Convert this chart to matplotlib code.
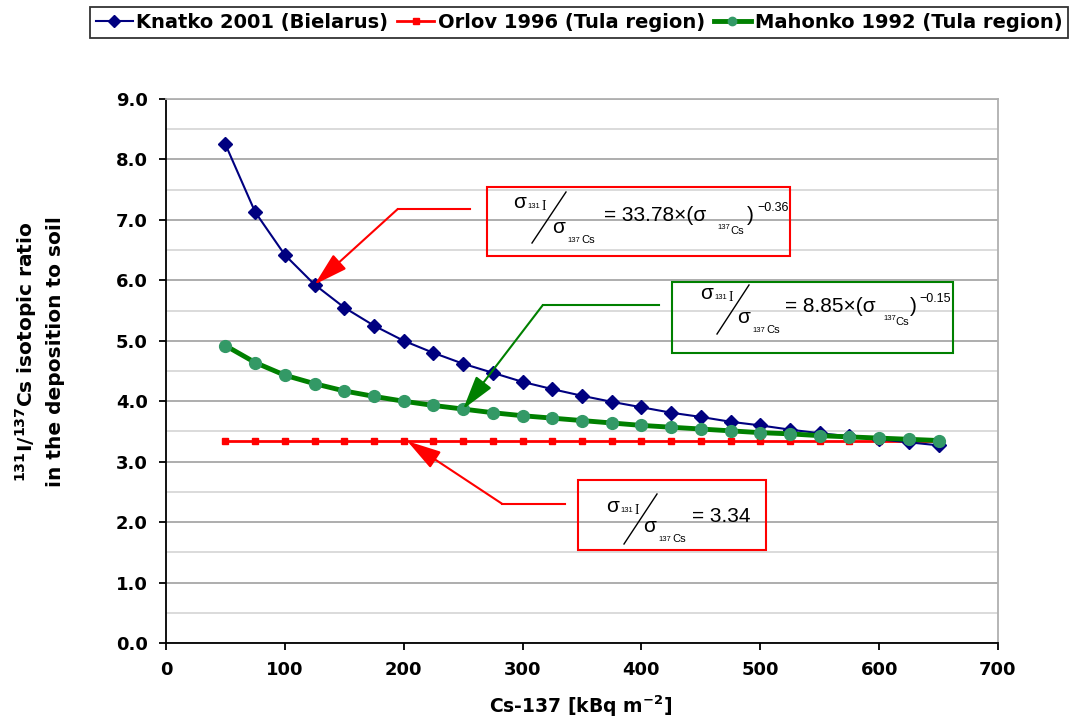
import numpy as np
import matplotlib
matplotlib.use("Agg")
import matplotlib.pyplot as plt
from matplotlib.lines import Line2D
from matplotlib.patches import Rectangle
from matplotlib.ticker import MultipleLocator, FormatStrFormatter

# deposition of Cs-137 [kBq m-2]
cs137 = [50, 75, 100, 125, 150, 175, 200, 225, 250, 275, 300, 325, 350,
         375, 400, 425, 450, 475, 500, 525, 550, 575, 600, 625, 650]

# 131I/137Cs ratio
knatko = [8.25, 7.13, 6.42, 5.93, 5.55, 5.25, 5.00, 4.80, 4.62, 4.47, 4.32,
          4.20, 4.09, 3.99, 3.90, 3.81, 3.74, 3.66, 3.60, 3.53, 3.47, 3.42,
          3.37, 3.32, 3.27]
orlov = [3.34] * len(cs137)
mahonko = [4.92, 4.64, 4.43, 4.29, 4.17, 4.08, 4.00, 3.93, 3.87, 3.81, 3.76,
           3.72, 3.68, 3.64, 3.60, 3.57, 3.54, 3.51, 3.48, 3.46, 3.43, 3.41,
           3.39, 3.37, 3.35]

labels = ["Knatko 2001 (Bielarus)", "Orlov 1996 (Tula region)",
          "Mahonko 1992 (Tula region)"]

W, H = 1086, 718
EQ_FONT = "Liberation Sans"


def P(x, y):
    # image pixel -> figure fraction
    return x / W, 1 - y / H


fig = plt.figure(figsize=(W / 100, H / 100), dpi=100)
ax = fig.add_axes([166 / W, 1 - 643 / H, (998 - 166) / W, (643 - 99) / H])

ax.plot(cs137, orlov, color="red", lw=2, marker="s", ms=5,
        mec="red", mfc="red", zorder=3)
ax.plot(cs137, knatko, color="#000080", lw=1.5, marker="D", ms=7.5,
        mec="#000080", mfc="#000080", zorder=4)
ax.plot(cs137, mahonko, color="#008000", lw=3.5, marker="o", ms=8.5,
        mec="#339966", mfc="#339966", zorder=5)

ax.set_xlim(0, 700)
ax.set_ylim(0, 9)
ax.xaxis.set_major_locator(MultipleLocator(100))
ax.yaxis.set_major_locator(MultipleLocator(1))
ax.yaxis.set_minor_locator(MultipleLocator(0.5))
ax.yaxis.set_major_formatter(FormatStrFormatter("%.1f"))
ax.grid(axis="y", which="major", color="#a0a0a0", lw=1.2)
ax.grid(axis="y", which="minor", color="#d4d4d4", lw=1.2)
ax.set_axisbelow(True)
ax.tick_params(which="major", direction="out", length=5, width=1.3,
               labelsize=13, pad=8)
ax.tick_params(axis="y", which="minor", length=0)
for lab in ax.get_xticklabels() + ax.get_yticklabels():
    lab.set_fontweight("bold")
for s in ["left", "bottom"]:
    ax.spines[s].set_color("black")
    ax.spines[s].set_linewidth(1.3)
for s in ["top", "right"]:
    ax.spines[s].set_color("#b0b0b0")
    ax.spines[s].set_linewidth(1.3)

fig.text(*P(581, 706), r"Cs-137 [kBq m$^{\mathbf{-2}}$]", ha="center",
         va="center", fontsize=13.5, fontweight="bold")
fig.text(*P(39, 352),
         r"$^{\mathbf{131}}$I/$^{\mathbf{137}}$Cs isotopic ratio" + "\n" +
         "in the deposition to soil", rotation=90, ha="center", va="center",
         fontsize=14.5, fontweight="bold", linespacing=1.45)

# legend
handles = [
    Line2D([], [], color="#000080", lw=1.5, marker="D", ms=6),
    Line2D([], [], color="red", lw=2, marker="s", ms=4),
    Line2D([], [], color="#008000", lw=3.5, marker="o", ms=6, mfc="#339966",
           mec="#339966"),
]
leg = fig.legend(handles, labels, ncol=3, loc="upper center",
                 bbox_to_anchor=P(579, 7), frameon=True, fancybox=False,
                 edgecolor="black", handlelength=1.9, handletextpad=0.2,
                 columnspacing=0.45, borderpad=0.3, borderaxespad=0,
                 prop=dict(size=14, weight="bold"))
leg.get_frame().set_linewidth(1.3)


# annotation boxes with leader arrows
def leader(elbow, end, tip, color):
    ax.plot([elbow[0], end[0]], [elbow[1], end[1]], color=color, lw=1.5,
            zorder=6, clip_on=False)
    ax.annotate("", xy=tip, xytext=elbow,
                arrowprops=dict(arrowstyle="-|>,head_length=1.4,head_width=0.4",
                                color=color, lw=1.5, mutation_scale=15,
                                shrinkA=0, shrinkB=0), zorder=6)


def box(x0, y0, x1, y1, color):
    ax.add_patch(Rectangle((x0, y0), x1 - x0, y1 - y0, fill=False,
                           edgecolor=color, lw=1.5, zorder=6, clip_on=False))


def piece(x, y, s, size, family=EQ_FONT):
    fig.text(*P(x, y), s, fontsize=size, family=family, ha="left",
             va="baseline", fontweight="normal")


def fraction(num_x, num_y, den_x, den_y, slash):
    # sigma(131I) / sigma(137Cs), written as a slanted fraction
    piece(num_x, num_y, "σ", 15)
    piece(num_x + 14, num_y, "131", 5.5)
    piece(num_x + 29, num_y + 2, "I", 10, "Liberation Serif")
    piece(den_x, den_y, "σ", 15)
    piece(den_x + 15, den_y + 9, "137", 5.5)
    piece(den_x + 29, den_y + 10, "Cs", 8)
    (sx0, sy0), (sx1, sy1) = slash
    fig.add_artist(Line2D([sx0 / W, sx1 / W], [1 - sy0 / H, 1 - sy1 / H],
                          color="black", lw=1))


box(270, 6.40, 525, 7.54, "red")
leader((195, 7.18), (256, 7.18), (cs137[3], knatko[3]), "red")
fraction(513, 208, 552, 233, ((566, 192), (532, 243)))
piece(604, 221, "= 33.78×(σ", 15)
piece(717, 229, "137", 5.5)
piece(730, 234, "Cs", 8)
piece(747, 221, ")", 15)
piece(757, 211, "−0.36", 9)

box(426, 4.80, 662, 5.97, "green")
leader((317, 5.59), (415, 5.59), (cs137[8], mahonko[8]), "green")
fraction(700, 299, 737, 323, ((749, 285), (717, 334)))
piece(785, 312, "= 8.85×(σ", 15)
piece(883, 320, "137", 5.5)
piece(895, 325, "Cs", 8)
piece(910, 312, ")", 15)
piece(919, 302, "−0.15", 9)

box(347, 1.54, 505, 2.70, "red")
leader((283, 2.30), (336, 2.30), (203, orlov[0]), "red")
fraction(606, 512, 643, 532, ((657, 494), (624, 544)))
piece(692, 522, "= 3.34", 15)

fig.savefig("out.png", dpi=100)
